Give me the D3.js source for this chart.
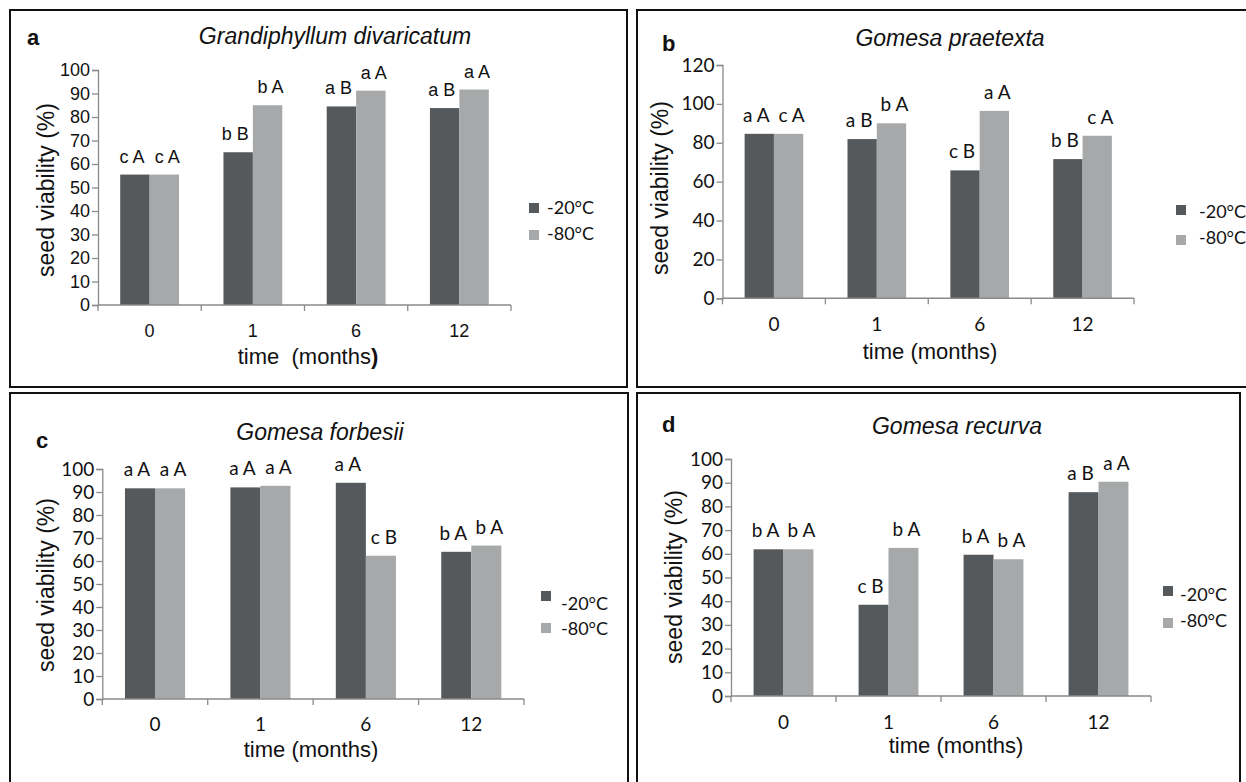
<!DOCTYPE html>
<html><head><meta charset="utf-8">
<script src="https://cdn.jsdelivr.net/npm/d3@7"></script>
<style>html,body{margin:0;padding:0;background:#fff;}svg{display:block;}</style>
</head><body>
<svg id="chart" width="1246" height="782"></svg>
<script>
// ---------- DATA ----------
const categories = ["0", "1", "6", "12"];
const seriesNames = ["-20°C", "-80°C"];

const titleA = "Grandiphyllum divaricatum";
const valuesA20 = [55.5, 65.0, 84.5, 83.8];
const valuesA80 = [55.5, 85.0, 91.2, 91.7];
const lettersA20 = ["c A", "b B", "a B", "a B"];
const lettersA80 = ["c A", "b A", "a A", "a A"];
const ticksA = [0, 10, 20, 30, 40, 50, 60, 70, 80, 90, 100];

const titleB = "Gomesa praetexta";
const valuesB20 = [84.6, 81.9, 65.8, 71.6];
const valuesB80 = [84.6, 90.0, 96.4, 83.6];
const lettersB20 = ["a A", "a B", "c B", "b B"];
const lettersB80 = ["c A", "b A", "a A", "c A"];
const ticksB = [0, 20, 40, 60, 80, 100, 120];

const titleC = "Gomesa forbesii";
const valuesC20 = [91.6, 92.0, 94.0, 64.0];
const valuesC80 = [91.6, 92.7, 62.3, 66.7];
const lettersC20 = ["a A", "a A", "a A", "b A"];
const lettersC80 = ["a A", "a A", "c B", "b A"];
const ticksC = [0, 10, 20, 30, 40, 50, 60, 70, 80, 90, 100];

const titleD = "Gomesa recurva";
const valuesD20 = [61.9, 38.5, 59.6, 86.0];
const valuesD80 = [61.9, 62.5, 57.7, 90.4];
const lettersD20 = ["b A", "c B", "b A", "a B"];
const lettersD80 = ["b A", "b A", "b A", "a A"];
const ticksD = [0, 10, 20, 30, 40, 50, 60, 70, 80, 90, 100];

const yLabel = "seed viability (%)";
const xLabel = "time (months)";
const panelLetters = ["a", "b", "c", "d"];

// ---------- STYLE / LAYOUT ----------
const ARIAL = "'Liberation Sans', Arial, sans-serif";
const CALIBRI = "Lato, 'Open Sans', sans-serif";
const colors = ["#56595b", "#a6a8a9"];
const labelShift = [-3, 3];

const panels = [
  { letter: panelLetters[0], title: titleA, v: [valuesA20, valuesA80], l: [lettersA20, lettersA80], ticks: ticksA,
    box: [10, 10, 627, 387], x0: 98, x1: 511, yb: 305, yt: 70, tickFont: ARIAL, tickSize: 18, lblFont: ARIAL, lblSize: 18,
    letterPos: [27, 45], titlePos: [335, 44], yTitlePos: [54, 190], xTickY: 337, xTitlePos: [308, 364],
    leg: { sx: 529, sy: [203, 230], tx: 547, ty: [214, 240] }, boldParen: true },
  { letter: panelLetters[1], title: titleB, v: [valuesB20, valuesB80], l: [lettersB20, lettersB80], ticks: ticksB,
    box: [637, 10, 1252, 387], x0: 722.5, x1: 1134, yb: 298.3, yt: 65, tickFont: CALIBRI, tickSize: 19, lblFont: CALIBRI, lblSize: 19,
    letterPos: [662, 51], titlePos: [950, 46], yTitlePos: [668, 188], xTickY: 331, xTitlePos: [930, 359],
    leg: { sx: 1176, sy: [205, 235], tx: 1199, ty: [218, 244] } },
  { letter: panelLetters[2], title: titleC, v: [valuesC20, valuesC80], l: [lettersC20, lettersC80], ticks: ticksC,
    box: [10, 393, 628, 790], x0: 102.3, x1: 524, yb: 699, yt: 469, tickFont: CALIBRI, tickSize: 19, lblFont: CALIBRI, lblSize: 19,
    letterPos: [36, 448], titlePos: [320, 440], yTitlePos: [54, 585], xTickY: 731, xTitlePos: [311, 757],
    leg: { sx: 541, sy: [591, 623], tx: 561, ty: [610, 635] } },
  { letter: panelLetters[3], title: titleD, v: [valuesD20, valuesD80], l: [lettersD20, lettersD80], ticks: ticksD,
    box: [637, 393, 1240, 790], x0: 731, x1: 1151, yb: 696, yt: 459, tickFont: CALIBRI, tickSize: 19, lblFont: CALIBRI, lblSize: 19,
    letterPos: [662, 432], titlePos: [957, 434], yTitlePos: [682, 577], xTickY: 729, xTitlePos: [956, 753],
    leg: { sx: 1163, sy: [586, 618], tx: 1180, ty: [601, 627] } }
];

const svg = d3.select("#chart");

panels.forEach(p => {
  const g = svg.append("g");
  // frame
  g.append("rect")
    .attr("x", p.box[0]).attr("y", p.box[1])
    .attr("width", p.box[2] - p.box[0]).attr("height", p.box[3] - p.box[1])
    .attr("fill", "#fff").attr("stroke", "#111").attr("stroke-width", 2);

  const yMax = p.ticks[p.ticks.length - 1];
  const y = d3.scaleLinear().domain([0, yMax]).range([p.yb, p.yt]);
  const x = d3.scaleBand().domain(categories).range([p.x0, p.x1])
    .paddingInner(0.43).paddingOuter(0.215);
  const xs = d3.scaleBand().domain(seriesNames).range([0, x.bandwidth()]);

  // bars
  seriesNames.forEach((s, si) => {
    g.append("g").selectAll("rect").data(categories).join("rect")
      .attr("x", c => x(c) + xs(s))
      .attr("y", (c, i) => y(p.v[si][i]))
      .attr("width", xs.bandwidth())
      .attr("height", (c, i) => p.yb - y(p.v[si][i]))
      .attr("fill", colors[si]);
  });

  // y axis
  const ya = g.append("g").attr("transform", `translate(${p.x0},0)`)
    .call(d3.axisLeft(y).tickValues(p.ticks).tickSize(6).tickPadding(2).tickFormat(d3.format("d")));
  ya.select(".domain").attr("stroke", "#8a8a8a").attr("stroke-width", 1.3);
  ya.selectAll(".tick line").attr("stroke", "#8a8a8a").attr("stroke-width", 1.3);
  ya.selectAll("text").attr("font-family", p.tickFont).attr("font-size", p.tickSize).attr("fill", "#111");

  // x axis: line with ticks at band boundaries
  const step = x.step();
  const bounds = d3.range(categories.length + 1).map(i => p.x0 + i * step);
  g.append("line").attr("x1", p.x0).attr("x2", p.x1).attr("y1", p.yb).attr("y2", p.yb)
    .attr("stroke", "#8a8a8a").attr("stroke-width", 1.5);
  g.append("g").selectAll("line").data(bounds).join("line")
    .attr("x1", d => d).attr("x2", d => d).attr("y1", p.yb).attr("y2", p.yb + 6)
    .attr("stroke", "#8a8a8a").attr("stroke-width", 1.3);
  g.append("g").selectAll("text").data(categories).join("text")
    .attr("x", c => x(c) + x.bandwidth() / 2).attr("y", p.xTickY)
    .attr("text-anchor", "middle").attr("font-family", p.tickFont).attr("font-size", p.tickSize)
    .attr("fill", "#111").text(c => c);

  // bar letters
  seriesNames.forEach((s, si) => {
    g.append("g").selectAll("text").data(categories).join("text")
      .attr("x", c => x(c) + xs(s) + xs.bandwidth() / 2 + labelShift[si])
      .attr("y", (c, i) => y(p.v[si][i]) - 12)
      .attr("text-anchor", "middle").attr("font-family", p.lblFont).attr("font-size", p.lblSize)
      .attr("fill", "#111").text((c, i) => p.l[si][i]);
  });

  // panel letter
  g.append("text").attr("x", p.letterPos[0]).attr("y", p.letterPos[1])
    .attr("font-family", ARIAL).attr("font-weight", "bold").attr("font-size", 22).attr("fill", "#111").text(p.letter);
  // title
  g.append("text").attr("x", p.titlePos[0]).attr("y", p.titlePos[1]).attr("text-anchor", "middle")
    .attr("font-family", ARIAL).attr("font-style", "italic").attr("font-size", 23).attr("fill", "#111").text(p.title);
  // y title
  g.append("text").attr("transform", `translate(${p.yTitlePos[0]},${p.yTitlePos[1]}) rotate(-90)`)
    .attr("text-anchor", "middle").attr("font-family", ARIAL).attr("font-size", 23).attr("fill", "#111").text(yLabel);
  // x title
  const xt = g.append("text").attr("x", p.xTitlePos[0]).attr("y", p.xTitlePos[1]).attr("text-anchor", "middle")
    .attr("font-family", ARIAL).attr("font-size", 22).attr("fill", "#111");
  if (p.boldParen) {
    xt.append("tspan").text("time\u00A0 (months");
    xt.append("tspan").attr("font-weight", "bold").text(")");
  } else {
    xt.text(xLabel);
  }

  // legend
  seriesNames.forEach((s, si) => {
    g.append("rect").attr("x", p.leg.sx).attr("y", p.leg.sy[si]).attr("width", 10).attr("height", 10).attr("fill", colors[si]);
    g.append("text").attr("x", p.leg.tx).attr("y", p.leg.ty[si]).attr("font-family", CALIBRI).attr("font-size", 18)
      .attr("fill", "#111").text(s);
  });
});
</script>
</body></html>
